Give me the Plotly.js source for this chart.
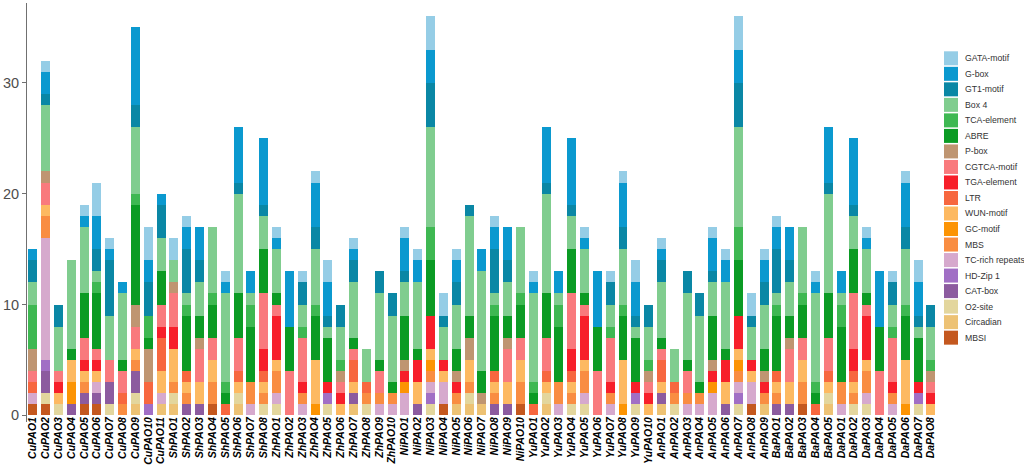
<!DOCTYPE html>
<html>
<head>
<meta charset="utf-8">
<script src="https://cdn.plot.ly/plotly-3.0.1.min.js"></script>
<style>html,body{margin:0;padding:0;background:#fff;}#chart{width:1024px;height:471px;}</style>
</head>
<body>
<div id="chart"></div>
<script>
// ---- categories ----
const categories = [
 "CuPAO1","CuPAO2","CuPAO3","CuPAO4","CuPAO5","CuPAO6","CuPAO7","CuPAO8","CuPAO9","CuPAO10","CuPAO11",
 "ShPAO1","ShPAO2","ShPAO3","ShPAO4","ShPAO5","ShPAO6","ShPAO7","ShPAO8",
 "ZhPAO1","ZhPAO2","ZhPAO3","ZhPAO4","ZhPAO5","ZhPAO6","ZhPAO7","ZhPAO8","ZhPAO9","ZhPAO10",
 "NiPAO1","NiPAO2","NiPAO3","NiPAO4","NiPAO5","NiPAO6","NiPAO7","NiPAO8","NiPAO9","NiPAO10",
 "YuPAO1","YuPAO2","YuPAO3","YuPAO4","YuPAO5","YuPAO6","YuPAO7","YuPAO8","YuPAO9","YuPAO10",
 "AnPAO1","AnPAO2","AnPAO3","AnPAO4","AnPAO5","AnPAO6","AnPAO7","AnPAO8","AnPAO9",
 "BaPAO1","BaPAO2","BaPAO3","BaPAO4","BaPAO5",
 "DaPAO1","DaPAO2","DaPAO3","DaPAO4","DaPAO5","DaPAO6","DaPAO7","DaPAO8"
];

// ---- series values (bottom of stack first) ----
const MBSI      = [1,1,0,0,1,1,0,0,0,0,0, 0,0,0,1, 0,0,0,0,0,0,0,0,0,0, 0,0,0,0,0,0,0,1,0, 0,0, 0,0,1, 0,0,0,0,0,0,0,0,0,0, 0,0,0,0,0,0,0,1,0, 0,0,1, 0,0,0,0,0,0,0,0,0,0];
const Circadian = [0,0,0,0,0,0,0,0,1,0,1, 1,0,0,0, 0,1,0,0,0,0,0,0,0,0, 1,0,0,0,0,0,0,0,1, 1,1, 0,0,0, 0,1,0,0,0,0,0,0,0,0, 1,0,0,0,0,0,0,0,1, 0,0,0, 0,1,0,0,0,0,0,0,0,0];
const O2site    = [0,1,1,0,0,0,1,0,1,0,0, 1,0,0,0, 0,1,0,1,1,0,0,0,1,0, 0,1,0,0,0,0,1,0,0, 1,0, 0,0,0, 0,1,0,1,1,0,0,0,1,0, 0,1,0,0,0,0,1,0,0, 0,0,0, 0,1,0,1,1,0,0,0,1,0];
const CATbox    = [0,2,0,1,1,1,2,0,2,0,0, 0,1,1,0, 0,0,0,0,0,0,0,0,0,0, 1,0,0,0,0,1,0,0,0, 0,0, 1,1,0, 0,0,0,0,0,0,0,0,0,0, 1,0,0,0,0,1,0,0,0, 1,1,0, 0,0,0,0,0,0,0,0,0,0];
const HDZip1    = [0,1,0,0,0,0,0,0,0,1,0, 0,0,0,0, 0,0,0,0,0,0,0,0,1,0, 0,0,0,0,0,0,1,0,0, 0,0, 0,0,0, 0,0,0,0,0,0,0,0,1,0, 0,0,0,0,0,0,1,0,0, 0,0,0, 0,0,0,0,0,0,0,0,1,0];
const TCrich    = [1,11,0,0,0,1,0,0,0,0,1, 0,0,0,0, 0,0,1,0,1,0,1,0,0,0, 0,0,1,1,2,0,1,2,0, 0,0, 0,0,0, 0,0,1,0,1,0,1,0,0,0, 0,0,1,1,2,0,1,2,0, 0,0,0, 0,0,1,0,1,0,1,0,0,0];
const MBS       = [0,2,0,0,1,0,0,1,1,0,0, 1,1,0,2, 0,0,2,1,2,0,1,0,0,0, 0,1,1,1,0,0,1,0,1, 1,0, 1,0,2, 0,0,2,1,2,0,1,0,0,0, 0,1,1,1,0,0,1,0,1, 1,0,2, 0,0,2,1,2,0,1,0,0,0];
const GCmotif   = [0,0,0,2,0,0,0,0,0,0,0, 0,0,0,0, 0,0,0,0,0,0,0,1,0,0, 0,0,0,0,1,0,1,0,0, 0,0, 0,0,0, 0,0,0,0,0,0,0,1,0,0, 0,0,0,0,1,0,1,0,0, 0,0,0, 0,0,0,0,0,0,0,1,0,0];
const WUNmotif  = [0,1,1,2,1,1,0,0,1,0,2, 3,1,2,2, 0,1,0,1,1,0,0,4,0,1, 1,0,0,0,0,2,1,1,0, 2,0, 1,2,2, 0,1,0,1,1,0,0,4,0,1, 1,0,0,0,0,2,1,1,0, 1,2,2, 0,1,0,1,1,0,0,4,0,1];
const LTR       = [1,0,0,0,0,0,0,1,0,2,3, 0,1,0,0, 1,1,0,1,0,0,0,0,0,0, 2,1,0,0,0,0,0,0,0, 0,0, 1,0,0, 1,1,0,1,0,0,0,0,0,0, 2,1,0,0,0,0,0,0,0, 1,0,0, 1,1,0,1,0,0,0,0,0,0];
const TGA       = [0,0,1,0,1,1,0,0,0,0,1, 2,0,0,0, 0,0,0,2,4,0,1,0,1,1, 0,0,0,0,1,2,3,1,1, 0,0, 0,0,0, 0,0,0,2,4,0,1,0,1,1, 0,0,0,0,1,2,3,1,1, 0,0,0, 0,0,0,2,4,0,1,0,1,1];
const CGTCA     = [1,2,1,0,2,1,2,2,2,0,2, 3,0,3,2, 0,3,0,5,1,4,4,0,0,1, 1,0,2,0,0,0,0,0,0, 0,0, 0,3,2, 0,3,0,5,1,4,4,0,0,1, 1,0,2,0,0,0,0,0,0, 0,3,2, 0,3,0,5,1,4,4,0,0,1];
const Pbox      = [2,1,0,0,0,0,0,0,2,3,0, 1,0,1,0, 0,0,0,0,0,0,0,0,0,1, 0,0,0,0,1,0,0,0,1, 2,1, 0,1,0, 0,0,0,0,0,0,0,0,0,1, 0,0,0,0,1,0,0,0,1, 0,1,0, 0,0,0,0,0,0,0,0,0,1];
const ABRE      = [0,0,0,1,4,5,0,1,9,1,3, 0,5,2,3, 1,4,5,4,1,4,0,4,4,0, 1,0,1,1,4,1,5,0,2, 2,2, 5,2,3, 1,4,5,4,1,4,0,4,4,0, 1,0,1,1,4,1,5,0,2, 5,2,3, 1,4,5,4,1,4,0,4,4,0];
const TCA       = [4,0,0,0,0,1,0,0,1,2,0, 0,1,0,1, 1,0,2,0,0,0,1,1,0,1, 0,0,0,0,0,0,3,0,0, 0,0, 1,0,1, 1,0,2,0,0,0,1,1,0,1, 0,0,0,0,0,0,3,0,0, 1,0,1, 1,0,2,0,0,0,1,1,0,1];
const Box4      = [2,6,4,8,6,1,4,6,6,0,3, 2,1,3,6, 8,9,1,3,4,0,2,5,1,3, 5,3,6,6,3,6,9,3,4, 9,9, 1,3,6, 8,9,1,3,4,0,2,5,1,3, 5,3,6,6,3,6,9,3,4, 1,3,6, 8,9,1,3,4,0,2,5,1,3];
const GT1       = [2,1,2,0,0,2,5,0,2,3,3, 0,4,2,0, 0,1,0,1,0,0,2,2,1,2, 2,0,2,2,1,0,4,1,2, 1,0, 4,2,0, 0,1,0,1,0,0,2,2,1,2, 2,0,2,2,1,0,4,1,2, 4,2,0, 0,1,0,1,0,0,2,2,1,2];
const Gbox      = [1,2,0,0,1,3,1,1,7,2,1, 0,2,3,0, 1,5,2,6,1,5,0,4,3,0, 1,0,0,0,3,2,3,0,2, 0,2, 2,3,0, 1,5,2,6,1,5,0,4,3,0, 1,0,0,0,3,2,3,0,2, 2,3,0, 1,5,2,6,1,5,0,4,3,0];
const GATA      = [0,1,0,0,1,3,1,0,0,3,0, 2,1,0,0, 1,0,0,0,1,0,1,1,2,0, 1,0,0,0,1,1,3,2,1, 0,0, 1,0,0, 1,0,0,0,1,0,1,1,2,0, 1,0,0,0,1,1,3,2,1, 1,0,0, 1,0,0,0,1,0,1,1,2,0];

const seriesNames = ["MBSI","Circadian","O2-site","CAT-box","HD-Zip 1","TC-rich repeats","MBS","GC-motif",
  "WUN-motif","LTR","TGA-element","CGTCA-motif","P-box","ABRE","TCA-element","Box 4","GT1-motif","G-box","GATA-motif"];
const seriesValues = [MBSI,Circadian,O2site,CATbox,HDZip1,TCrich,MBS,GCmotif,WUNmotif,LTR,TGA,CGTCA,Pbox,ABRE,TCA,Box4,GT1,Gbox,GATA];
const seriesColors = ["#C4581F","#EDC274","#E3D69D","#8C5B9F","#A16FC5","#D6A9CD","#F98D42","#FC9404",
  "#FDB961","#F7673F","#F71F2A","#F97A7D","#BF9571","#0B9B24","#3EB852","#80CD8F","#0A87A5","#0B99CF","#95CDE6"];
const yTicks = [0,10,20,30];

const W=1024, H=471, ML=27, MR=86, MT=3, MB=49;
const plotW = W-ML-MR, plotH = H-MT-MB;
const px2x = px => (px-ML)/plotW;
const py2y = py => (H-MB-py)/plotH;

const traces = seriesNames.map((n,i)=>({
  type:'bar', name:n, x:categories, y:seriesValues[i],
  marker:{color:seriesColors[i], line:{width:0}},
  hoverinfo:'x+y+name'
}));

// manual legend (top entry = last stacked series)
const shapes = [], annotations = [];
const keyL=944, keyR=958, keyH=14, firstCy=58.3, step=15.52;
for(let k=0;k<seriesNames.length;k++){
  const i = seriesNames.length-1-k;
  const cy = firstCy + k*step;
  shapes.push({type:'rect', xref:'paper', yref:'paper',
    x0:px2x(keyL), x1:px2x(keyR), y0:py2y(cy+keyH/2), y1:py2y(cy-keyH/2),
    fillcolor:seriesColors[i], line:{width:0}, layer:'above'});
  annotations.push({xref:'paper', yref:'paper', x:px2x(963), y:py2y(cy),
    xanchor:'left', yanchor:'middle', showarrow:false, text:seriesNames[i],
    font:{family:'Liberation Sans, Arial, sans-serif', size:8.7, color:'#333333'}});
}

const layout = {
  width:W, height:H,
  margin:{l:ML, r:MR, t:MT, b:MB, pad:0},
  paper_bgcolor:'#ffffff', plot_bgcolor:'#ffffff',
  barmode:'stack', bargap:0.3,
  showlegend:false,
  xaxis:{type:'category', range:[-0.45,70.55], showgrid:false, zeroline:false, showline:false,
    tickmode:'array', tickvals:categories, ticktext:categories,
    ticks:'', tickangle:-90, automargin:false, ticklabelstandoff:-8,
    tickfont:{family:'Liberation Sans, Arial, sans-serif', size:10.5, color:'#000000', weight:'bold', style:'italic'}},
  yaxis:{range:[-0.6,37.2], tickvals:yTicks, ticktext:yTicks.map(String), showgrid:false, zeroline:false,
    showline:true, linecolor:'#707070', linewidth:1, ticks:'outside', ticklen:4, tickcolor:'#707070',
    automargin:false,
    tickfont:{family:'Liberation Sans, Arial, sans-serif', size:14.5, color:'#4d4d4d'}},
  shapes:shapes, annotations:annotations
};

Plotly.newPlot('chart', traces, layout, {staticPlot:true, displayModeBar:false});
</script>
</body>
</html>
